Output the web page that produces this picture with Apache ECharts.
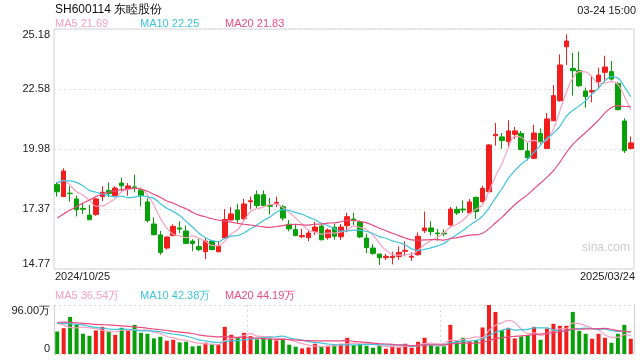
<!DOCTYPE html>
<html><head><meta charset="utf-8">
<script src="https://cdn.jsdelivr.net/npm/echarts@6/dist/echarts.min.js"></script>
<style>html,body{margin:0;padding:0;background:#fff}#c{width:640px;height:360px}</style>
</head><body><div id="c"></div>
<script>
const opens=[18.43,17.91,18.06,17.81,17.40,17.11,17.13,17.91,18.18,17.95,
18.50,18.24,18.33,18.20,17.68,16.72,16.25,15.68,16.22,16.55,
16.42,15.98,15.74,15.52,15.98,15.52,16.12,16.90,17.33,16.95,
17.69,17.99,17.99,17.52,17.62,17.47,16.71,16.48,16.17,16.13,
16.40,16.63,16.13,16.58,16.17,16.65,16.94,16.81,16.11,15.68,
15.42,15.26,15.26,15.31,15.54,15.28,15.39,16.43,16.55,16.33,
16.33,16.68,17.36,17.37,17.20,17.88,17.69,18.12,20.55,20.50,
20.29,20.61,20.65,19.89,19.57,20.65,20.00,21.20,22.07,24.41,
23.47,23.37,22.49,22.45,22.90,23.30,23.33,22.82,21.19,20.00];
const closes=[18.12,19.02,18.04,17.34,17.36,16.91,17.81,18.10,18.04,18.28,
18.38,18.37,18.28,17.95,16.87,16.26,15.49,16.16,16.62,16.50,
15.88,15.88,15.61,15.98,15.61,15.78,16.92,17.16,16.91,17.59,
17.73,17.52,17.52,17.49,17.66,16.98,16.51,16.22,16.22,16.33,
16.59,16.04,16.46,16.19,16.59,17.04,16.87,16.16,15.70,15.45,
15.26,15.32,15.32,15.49,15.58,15.32,16.19,16.55,16.39,16.30,
16.29,17.37,17.20,17.33,17.68,17.26,18.27,20.15,20.61,20.34,
20.76,20.76,19.95,19.60,20.67,20.29,21.28,22.29,23.62,24.66,
23.37,22.72,22.25,22.51,23.18,23.53,23.01,21.68,19.90,20.24];
const lows=[17.91,17.91,17.69,17.05,17.16,16.88,17.08,17.72,17.88,17.92,
18.12,17.95,18.10,17.49,16.79,16.22,15.38,15.61,16.19,16.32,
15.85,15.54,15.54,15.20,15.58,15.49,16.07,16.87,16.77,16.91,
17.37,17.42,17.49,17.13,17.45,16.87,16.40,16.19,16.11,15.98,
16.25,16.01,16.04,16.04,16.03,16.36,16.68,16.11,15.46,15.39,
14.94,15.16,14.97,15.17,15.32,15.13,15.35,16.33,16.22,16.00,
16.19,16.62,17.11,17.20,17.16,16.94,17.65,18.10,20.12,19.98,
20.03,20.41,19.92,19.48,19.54,20.18,19.98,21.18,22.03,23.62,
22.29,22.66,21.77,22.00,22.58,22.92,22.95,21.65,19.80,19.95];
const highs=[18.53,19.14,18.36,17.95,17.63,17.56,17.84,18.36,18.53,18.36,
18.73,18.50,18.86,18.30,17.84,17.01,16.42,16.19,16.71,16.84,
16.65,16.06,16.11,16.13,16.03,15.98,17.37,17.45,17.60,17.81,
17.91,18.18,18.18,17.85,17.91,17.55,16.90,16.71,16.51,16.46,
16.82,16.68,16.53,16.72,16.72,17.20,17.20,16.87,16.30,15.85,
15.42,15.42,15.52,15.75,15.97,15.49,16.36,17.26,16.84,16.51,
16.49,17.46,17.49,17.75,17.81,17.91,18.38,20.18,21.10,20.67,
21.22,20.93,20.76,20.26,21.02,20.87,21.54,22.75,24.08,24.95,
24.14,24.20,22.64,23.16,23.50,24.02,23.79,22.87,21.31,20.52];
const volumes=[44.1,50.6,72.7,57.1,39.6,35.7,46.1,53.2,45.4,37.6,
51.3,46.1,57.1,41.5,39.6,30.5,33.7,26.0,27.9,22.7,
24.0,14.9,16.2,22.1,18.8,18.8,53.2,37.6,32.5,41.5,
35.0,28.6,33.7,30.5,26.6,31.2,18.2,14.3,11.0,13.0,
20.1,14.3,16.2,18.2,20.1,31.8,17.5,20.1,16.2,12.3,
16.2,10.4,16.2,13.0,20.1,12.3,24.0,31.8,17.5,14.9,
14.9,57.1,26.0,31.8,24.7,27.3,51.9,96.0,82.4,47.4,
51.3,30.5,34.4,37.0,53.2,27.9,50.0,59.1,55.2,55.2,
82.4,45.4,39.6,29.9,39.6,31.8,22.1,39.6,57.1,29.9];
// moving-average values before a full window exists
const ma5Head=[18.45,18.62,18.40,18.12];
const ma10Head=[18.50,18.60,18.59,18.53,18.38,18.18,18.10,18.02,17.95];
const ma20Head=[16.98,17.16,17.33,17.47,17.63,17.76,17.91,18.01,18.10,18.15,18.21,18.25,18.27,18.24,18.14,18.01,17.88,17.72,17.63];
const volMa5Head=[60,57,52,51];
const volMa10Head=[60.4,60,59,58,57,54,52,50.6,49];
const volMa20Head=[61.7,62.3,62,61,60,59,58,57.5,57,56,55,54,53,52,50.5,49,47.5,46,44.5];
const priceTicks=['14.77','17.37','19.98','22.58','25.18'];
const volTicks=['0','96.00万'];
const priceLegend=['MA5 21.69','MA10 22.25','MA20 21.83'];
const volLegend=['MA5 36.54万','MA10 42.38万','MA20 44.19万'];
const dateLabels=['2024/10/25','2025/03/24'];
const titleText='SH600114 东睦股份';
const timeText='03-24 15:00';
const watermark='sina.com';

const UP='#f21e1e', DOWN='#08a008';
const C5='#f7a1c0', C10='#3fc4df', C20='#ea4c80';
const FONT='"Liberation Sans", Arial, sans-serif';
const cats=closes.map((_,i)=>String(i));
const kData=closes.map((c,i)=>[opens[i],c,lows[i],highs[i]]);
function ma(src,n,head){return src.map((_,i)=>{if(i<n-1)return head[i];let s=0;for(let k=i-n+1;k<=i;k++)s+=src[k];return +(s/n).toFixed(3);});}
const volData=volumes.map((v,i)=>({value:v,itemStyle:{color:closes[i]>=opens[i]?UP:DOWN}}));
const pMin=+priceTicks[0], pMax=+priceTicks[priceTicks.length-1];
const pInt=(pMax-pMin)/(priceTicks.length-1);
const vMax=96;

function t(text,pos,color,size){return Object.assign({text,padding:0,textStyle:{color,fontSize:size,fontWeight:'normal',fontFamily:FONT}},pos);}
const lineS=(name,data,color,x,y)=>({name,type:'line',data,xAxisIndex:x,yAxisIndex:y,symbol:'none',smooth:0.4,lineStyle:{color,width:1.2},z:3,silent:true});

const chart=echarts.init(document.getElementById('c'),null,{renderer:'canvas'});
chart.setOption({
  animation:false,
  backgroundColor:'#fff',
  title:[
    t(titleText,{left:55,top:4},'#111',12),
    t(timeText,{right:4,top:5},'#222',11),
    t(priceLegend[0],{left:55,top:18},C5,11),
    t(priceLegend[1],{left:140,top:18},C10,11),
    t(priceLegend[2],{left:225,top:18},C20,11),
    t(dateLabels[0],{left:55,top:271},'#222',11),
    t(dateLabels[1],{right:5,top:271},'#222',11),
    t(volLegend[0],{left:55,top:290},C5,11),
    t(volLegend[1],{left:140,top:290},C10,11),
    t(volLegend[2],{left:225,top:290},C20,11),
    t(watermark,{left:582,top:242},'#cccccc',12)
  ],
  grid:[
    {left:54,right:6,top:29,height:240,show:true,borderColor:'#d2d2d2',borderWidth:1},
    {left:54,right:6,top:305,height:49}
  ],
  xAxis:[
    {type:'category',gridIndex:0,data:cats,boundaryGap:true,axisLine:{show:false},axisTick:{show:false},axisLabel:{show:false},splitLine:{show:false}},
    {type:'category',gridIndex:1,data:cats,boundaryGap:true,axisLine:{show:false},axisTick:{show:false},axisLabel:{show:false},
     splitLine:{show:true,interval:(i)=>i===30||i===60,lineStyle:{color:'#d8d8d8',type:[2,3]}}}
  ],
  yAxis:[
    {type:'value',gridIndex:0,min:pMin,max:pMax,interval:pInt,axisLine:{show:false},axisTick:{show:false},
     axisLabel:{margin:4,color:'#222',fontSize:11,fontFamily:FONT,showMinLabel:true,showMaxLabel:true,
       verticalAlignMinLabel:'bottom',verticalAlignMaxLabel:'top',
       formatter:(v)=>priceTicks[Math.round((v-pMin)/pInt)]},
     splitLine:{lineStyle:{color:'#e0e0e0',type:[2,3]}}},
    {type:'value',gridIndex:1,min:0,max:vMax,interval:vMax,axisLine:{show:true,lineStyle:{color:'#d2d2d2'}},axisTick:{show:false},
     axisLabel:{margin:4,color:'#222',fontSize:11,fontFamily:FONT,showMinLabel:true,showMaxLabel:true,
       verticalAlignMinLabel:'bottom',verticalAlignMaxLabel:'top',
       formatter:(v)=>v===0?volTicks[0]:volTicks[1]},
     splitLine:{lineStyle:{color:'#d8d8d8',type:[2,3]}}},
    {type:'value',gridIndex:1,position:'right',min:0,max:vMax,interval:vMax,axisLine:{show:true,lineStyle:{color:'#d2d2d2'}},axisTick:{show:false},axisLabel:{show:false},splitLine:{show:false}}
  ],
  series:[
    {type:'candlestick',xAxisIndex:0,yAxisIndex:0,data:kData,barWidth:5,
     itemStyle:{color:UP,color0:DOWN,borderColor:UP,borderColor0:DOWN,borderWidth:1},z:2},
    lineS('MA5',ma(closes,5,ma5Head),C5,0,0),
    lineS('MA10',ma(closes,10,ma10Head),C10,0,0),
    lineS('MA20',ma(closes,20,ma20Head),C20,0,0),
    {type:'bar',xAxisIndex:1,yAxisIndex:1,data:volData,barWidth:4,z:2},
    lineS('VMA5',ma(volumes,5,volMa5Head),C5,1,1),
    lineS('VMA10',ma(volumes,10,volMa10Head),C10,1,1),
    lineS('VMA20',ma(volumes,20,volMa20Head),C20,1,1)
  ]
});
</script></body></html>
